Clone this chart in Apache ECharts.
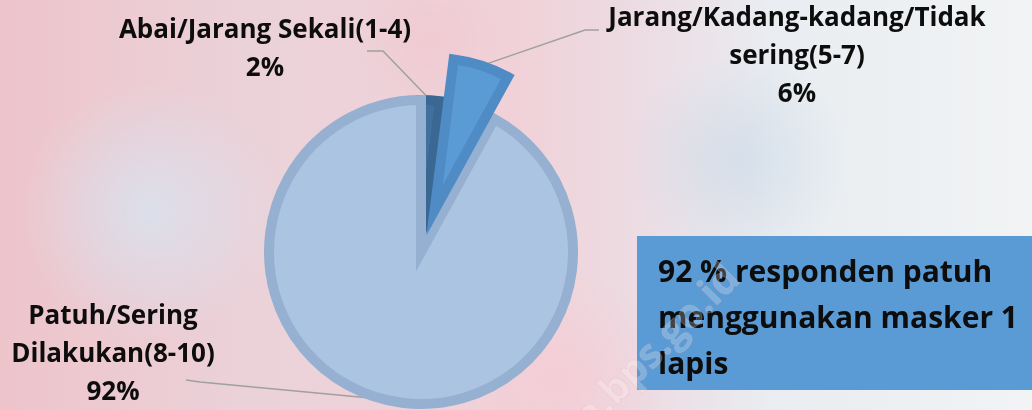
<!DOCTYPE html>
<html>
<head>
<meta charset="utf-8">
<script src="https://cdn.jsdelivr.net/npm/echarts@6/dist/echarts.min.js"></script>
<style>
  html, body { margin: 0; padding: 0; }
  #chart { width: 1032px; height: 410px; }
</style>
</head>
<body>
<div id="chart"></div>
<script>
// categories and shares (percent of respondents)
var categories = [
	'Abai/Jarang Sekali(1-4)',
	'Jarang/Kadang-kadang/Tidak\nsering(5-7)',
	'Patuh/Sering\nDilakukan(8-10)'
];
var shares = [2, 6, 92];
var explodedIndex = 1;
var noteText = '92 % responden patuh\nmenggunakan masker 1\nlapis';

// label anchors (layout only)
var labelAnchor = [
	{ x: 265, y: 50, lineTo: [[383, 51], [367, 51]] },
	{ x: 797, y: 57, lineTo: [[585, 30], [599, 30]] },
	{ x: 113, y: 355, lineTo: [[200, 382], [186, 380]] }
];

var sliceStyle = [
	{ color: '#41709f', borderColor: '#3b6793' },
	{ color: '#5b9bd5', borderColor: '#4f8bc4' },
	{ color: '#abc4e2', borderColor: '#95b0d0' }
];

var pieCenter = [421, 252];
var pieRadius = 152;
var explodeOffset = 44;

// direction of the exploded slice (middle of its angle, clockwise from 12 o'clock)
var total = 0, before = 0;
for (var i = 0; i < shares.length; i++) {
	total += shares[i];
	if (i < explodedIndex) before += shares[i];
}
var midAngle = (before + shares[explodedIndex] / 2) / total * 2 * Math.PI;
var explodedCenter = [
	pieCenter[0] + explodeOffset * Math.sin(midAngle),
	pieCenter[1] - explodeOffset * Math.cos(midAngle)
];

var chart = echarts.init(document.getElementById('chart'));

function build_data(showExploded) {
	var out = [];
	for (var i = 0; i < categories.length; i++) {
		var visible = (i == explodedIndex) == showExploded;
		out.push({
			name: categories[i],
			value: shares[i],
			itemStyle: visible ? sliceStyle[i] : { color: 'rgba(0,0,0,0)', borderWidth: 0 },
			label: { show: visible },
			labelLine: { show: visible }
		});
	}
	return out;
}

var labelLayout = function (params) {
	var a = labelAnchor[params.dataIndex];
	var pts = params.labelLinePoints;
	var start = pts ? pts[0] : a.lineTo[0];
	return {
		x: a.x,
		y: a.y,
		align: 'center',
		verticalAlign: 'middle',
		labelLinePoints: [start, a.lineTo[0], a.lineTo[1]]
	};
};

var basePie = {
	type: 'pie',
	radius: pieRadius,
	startAngle: 90,
	clockwise: true,
	avoidLabelOverlap: false,
	percentPrecision: 0,
	emphasis: { disabled: true },
	itemStyle: {
		borderWidth: 10,
		borderJoin: 'miter',
		borderMiterLimit: 10
	},
	label: {
		position: 'outside',
		formatter: '{b}\n{d}%',
		fontFamily: 'Open Sans',
		fontWeight: 'bold',
		fontSize: 26,
		lineHeight: 38,
		color: '#0d0d0d',
		align: 'center'
	},
	labelLine: {
		length: 20,
		length2: 15,
		lineStyle: { color: '#a0a0a0', width: 1.5 }
	},
	labelLayout: labelLayout
};

var option = {
	backgroundColor: {
		type: 'linear', x: 0, y: 0, x2: 1, y2: 0,
		colorStops: [
			{ offset: 0, color: '#eec4cb' },
			{ offset: 0.25, color: '#ebd2d9' },
			{ offset: 0.5, color: '#f1d1d8' },
			{ offset: 0.62, color: '#ecdce3' },
			{ offset: 0.75, color: '#e9edf1' },
			{ offset: 1, color: '#f1f3f4' }
		]
	},
	graphic: [
		{
			type: 'ellipse', z: -10, silent: true,
			shape: { cx: 150, cy: 210, rx: 150, ry: 130 },
			style: {
				fill: {
					type: 'radial', x: 0.5, y: 0.5, r: 0.5,
					colorStops: [
						{ offset: 0, color: 'rgba(215,228,240,0.8)' },
						{ offset: 1, color: 'rgba(215,228,240,0)' }
					]
				}
			}
		},
		{
			type: 'ellipse', z: -10, silent: true,
			shape: { cx: 740, cy: 160, rx: 200, ry: 110 },
			style: {
				fill: {
					type: 'radial', x: 0.5, y: 0.5, r: 0.5,
					colorStops: [
						{ offset: 0, color: 'rgba(205,218,232,0.7)' },
						{ offset: 1, color: 'rgba(205,218,232,0)' }
					]
				}
			}
		},
		{
			type: 'ellipse', z: -10, silent: true,
			shape: { cx: 430, cy: 40, rx: 160, ry: 70 },
			style: {
				fill: {
					type: 'radial', x: 0.5, y: 0.5, r: 0.5,
					colorStops: [
						{ offset: 0, color: 'rgba(240,200,208,0.8)' },
						{ offset: 1, color: 'rgba(240,200,208,0)' }
					]
				}
			}
		},
		{
			type: 'ellipse', z: -10, silent: true,
			shape: { cx: 560, cy: 380, rx: 140, ry: 110 },
			style: {
				fill: {
					type: 'radial', x: 0.5, y: 0.5, r: 0.5,
					colorStops: [
						{ offset: 0, color: 'rgba(244,205,214,0.9)' },
						{ offset: 1, color: 'rgba(244,205,214,0)' }
					]
				}
			}
		},
		{
			type: 'rect', z: 5,
			shape: { x: 637, y: 236, width: 400, height: 154 },
			style: { fill: '#5b9bd5' }
		},
		{
			type: 'text', z: 6,
			x: 658, y: 250,
			style: {
				text: noteText,
				font: 'bold 30px "Open Sans"',
				lineHeight: 46,
				fill: '#0d0d0d'
			}
		},
		{
			type: 'text', z: 7, silent: true,
			x: 556, y: 422, rotation: Math.PI * 0.25,
			style: {
				text: 'ta.bps.go.id',
				font: 'bold 40px "Open Sans"',
				fill: 'rgba(255,255,255,0.22)',
				stroke: 'rgba(235,170,180,0.25)',
				lineWidth: 1
			}
		}
	],
	series: [
		Object.assign({}, basePie, {
			center: pieCenter,
			data: build_data(false)
		}),
		Object.assign({}, basePie, {
			center: explodedCenter,
			data: build_data(true)
		})
	]
};

chart.setOption(option);
</script>
</body>
</html>
